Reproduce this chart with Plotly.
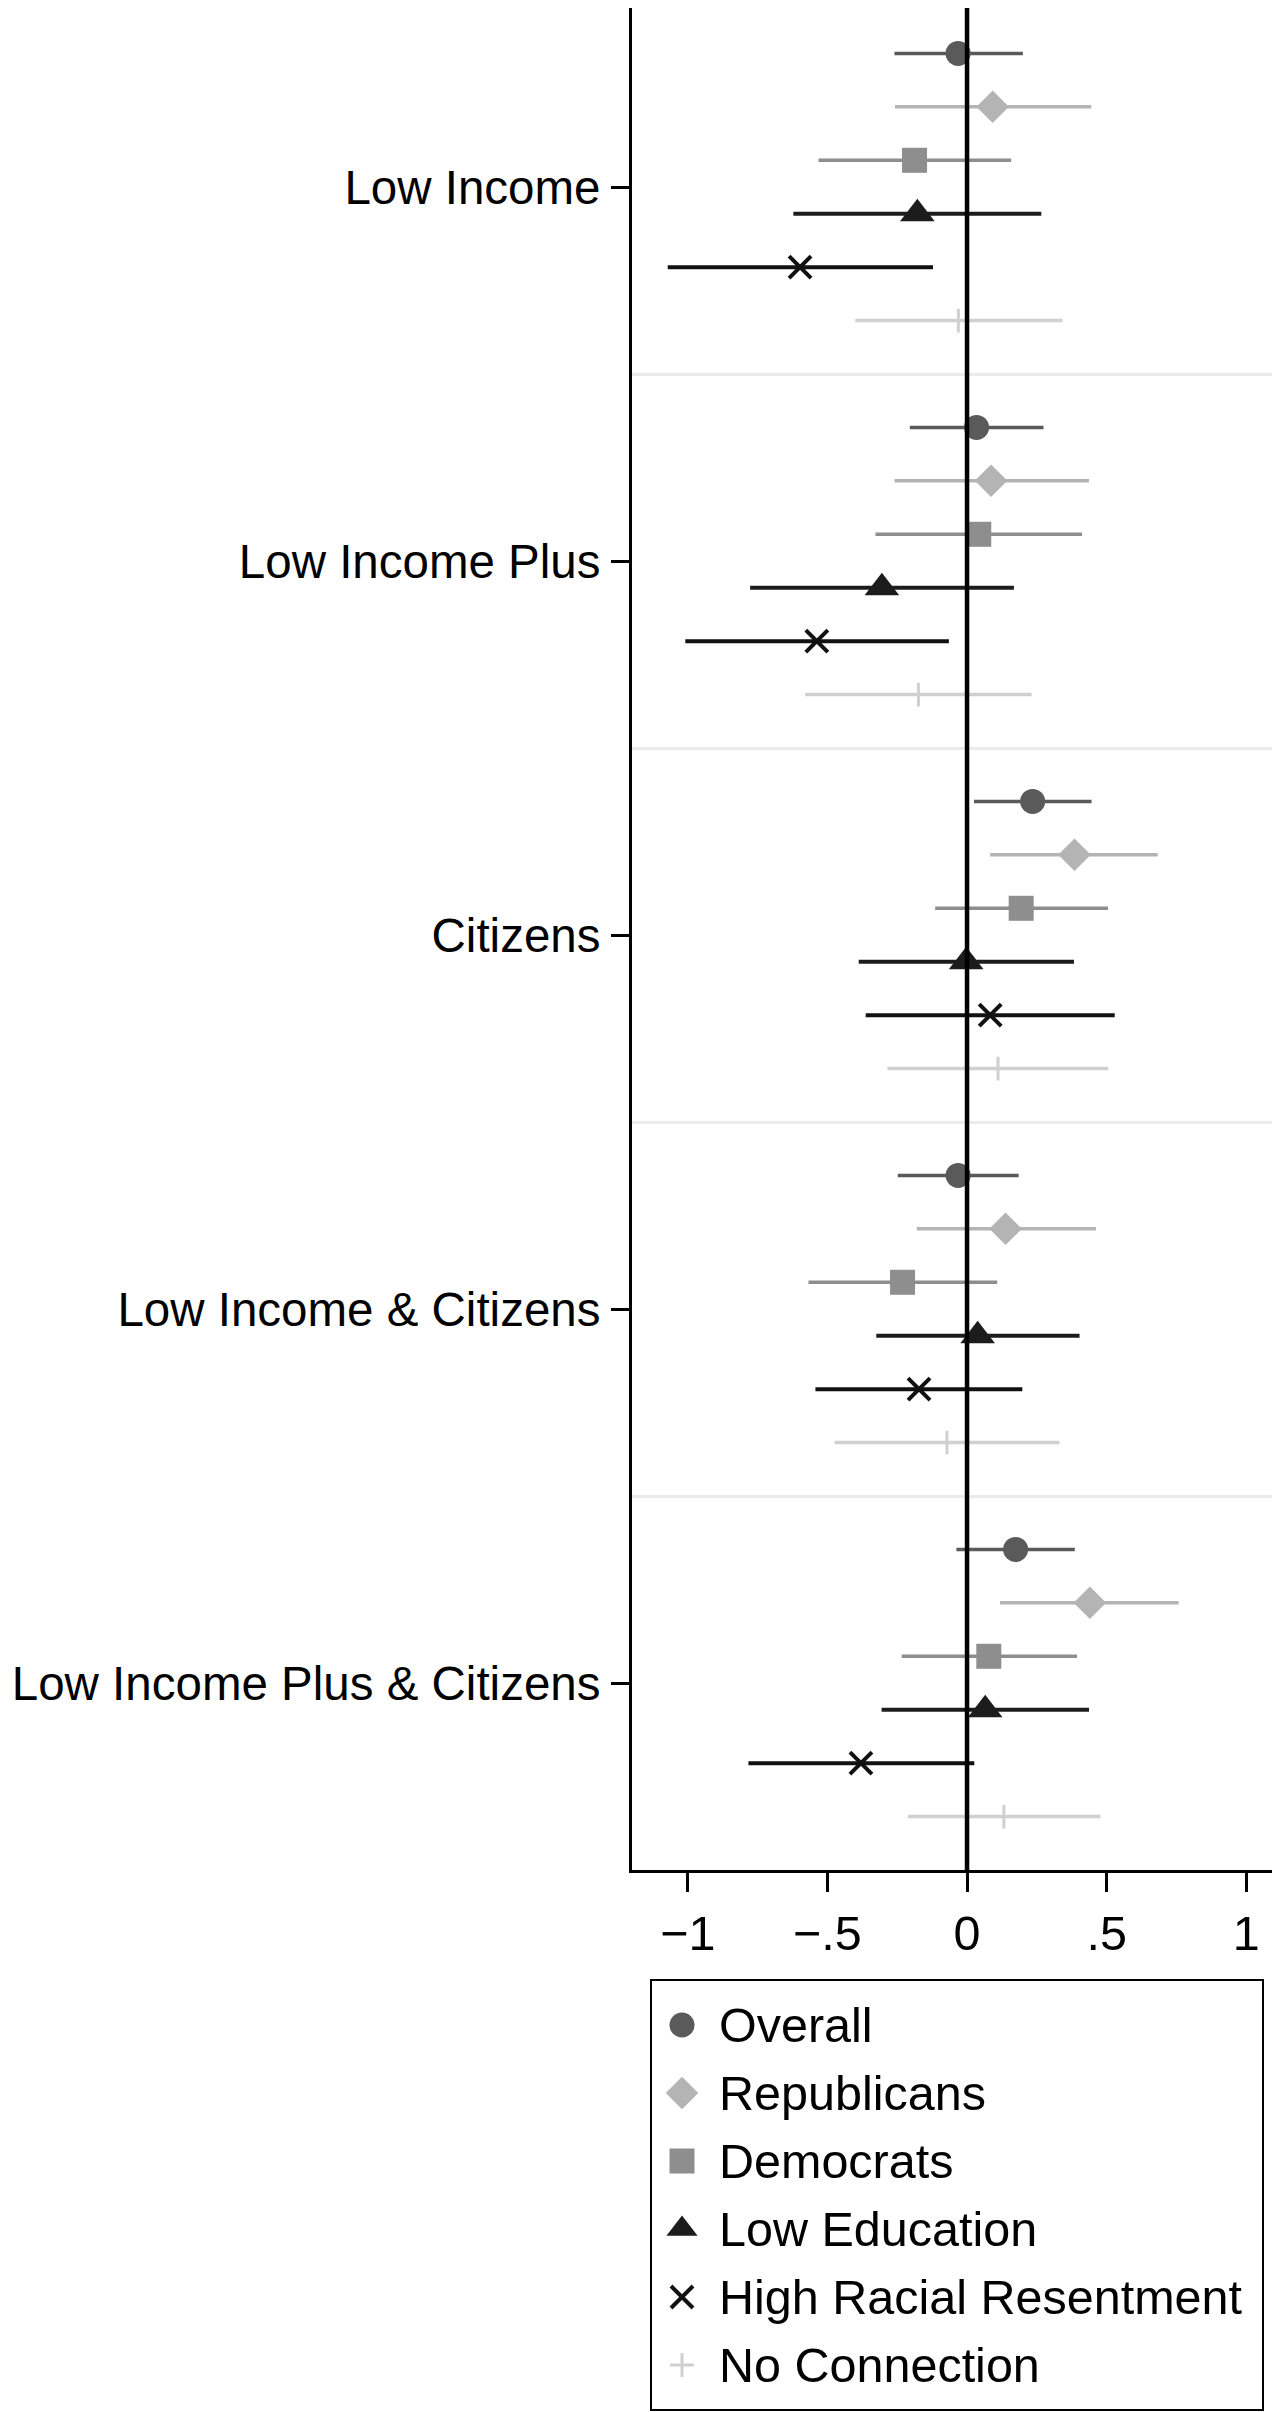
import plotly.graph_objects as go

categories = ["Low Income", "Low Income Plus", "Citizens",
              "Low Income & Citizens", "Low Income Plus & Citizens"]

series_names = ["Overall", "Republicans", "Democrats", "Low Education",
                "High Racial Resentment", "No Connection"]

# point estimates and 95% CI bounds per series (one value per category)
overall_est = [-0.032, 0.034, 0.235, -0.032, 0.174]
overall_lo = [-0.26, -0.205, 0.025, -0.248, -0.038]
overall_hi = [0.20, 0.274, 0.446, 0.185, 0.386]

rep_est = [0.092, 0.086, 0.385, 0.138, 0.44]
rep_lo = [-0.258, -0.26, 0.083, -0.18, 0.118]
rep_hi = [0.445, 0.437, 0.683, 0.462, 0.758]

dem_est = [-0.188, 0.042, 0.194, -0.231, 0.078]
dem_lo = [-0.532, -0.328, -0.114, -0.568, -0.234]
dem_hi = [0.158, 0.412, 0.505, 0.108, 0.394]

lowedu_est = [-0.178, -0.305, -0.003, 0.038, 0.065]
lowedu_lo = [-0.622, -0.777, -0.388, -0.325, -0.306]
lowedu_hi = [0.266, 0.168, 0.383, 0.403, 0.437]

hrr_est = [-0.598, -0.538, 0.083, -0.172, -0.38]
hrr_lo = [-1.072, -1.009, -0.363, -0.543, -0.783]
hrr_hi = [-0.122, -0.065, 0.529, 0.198, 0.026]

noconn_est = [-0.031, -0.174, 0.111, -0.072, 0.132]
noconn_lo = [-0.40, -0.58, -0.285, -0.475, -0.212]
noconn_hi = [0.342, 0.231, 0.506, 0.331, 0.478]

x_tickvals = [-1, -0.5, 0, 0.5, 1]
x_ticktext = ["\u22121", "\u2212.5", "0", ".5", "1"]

estimates = [overall_est, rep_est, dem_est, lowedu_est, hrr_est, noconn_est]
lows = [overall_lo, rep_lo, dem_lo, lowedu_lo, hrr_lo, noconn_lo]
highs = [overall_hi, rep_hi, dem_hi, lowedu_hi, hrr_hi, noconn_hi]

styles = [
    dict(color="#5a5a5a", symbol="circle", size=25, lw=3.5, mlw=0),
    dict(color="#b4b4b4", symbol="diamond", size=25, lw=3.5, mlw=0),
    dict(color="#8e8e8e", symbol="square", size=25, lw=3.5, mlw=0),
    dict(color="#1c1c1c", symbol="triangle-up", size=30, lw=4, mlw=0),
    dict(color="#111111", symbol="x-thin", size=22, lw=4, mlw=4),
    dict(color="#d0d0d0", symbol="cross-thin", size=17, lw=3.5, mlw=3),
]

FONT = "Liberation Sans, Arial, Helvetica, sans-serif"

# The page body adds an 8px margin; figure coordinates are page - 8.
OFF = 8
W = 1280 - OFF
H = 2412 - OFF
PLOT_LEFT = 632 - OFF
PLOT_BOTTOM = 1870 - OFF
PX_PER_ROW = 374.0
y_top_val = -0.5 + OFF / PX_PER_ROW

fig = go.Figure()
n_series = len(series_names)
for k, name in enumerate(series_names):
    st = styles[k]
    off = (k - (n_series - 1) / 2) / 7.0
    ys = [i + off for i in range(len(categories))]
    est = estimates[k]
    plus = [h - e for h, e in zip(highs[k], est)]
    minus = [e - l for e, l in zip(est, lows[k])]
    fig.add_trace(go.Scatter(
        x=est, y=ys, mode="markers", name=name, showlegend=False,
        marker=dict(color=st["color"], symbol=st["symbol"], size=st["size"],
                    line=dict(width=st["mlw"], color=st["color"])),
        error_x=dict(type="data", array=plus, arrayminus=minus,
                     color=st["color"], thickness=st["lw"], width=0),
        xaxis="x", yaxis="y",
    ))

# vertical reference line at zero, drawn above the markers
fig.add_shape(type="line", xref="x", yref="y domain", x0=0, x1=0, y0=0, y1=1,
              line=dict(color="black", width=4.5), layer="above")

# ---- legend built as its own small panel ----
LEG_L, LEG_R, LEG_T, LEG_B = 652 - OFF, 1262 - OFF, 1981 - OFF, 2409 - OFF
ROW_H = 68
FIRST_ROW = 44
leg_rows = list(range(n_series))
leg_marker_x = (30) / (LEG_R - LEG_L)
leg_text_x = (65) / (LEG_R - LEG_L)
for k, name in enumerate(series_names):
    st = styles[k]
    fig.add_trace(go.Scatter(
        x=[leg_marker_x], y=[leg_rows[k]], mode="markers", showlegend=False,
        marker=dict(color=st["color"], symbol=st["symbol"],
                    size=min(st["size"], 27),
                    line=dict(width=st["mlw"], color=st["color"])),
        xaxis="x2", yaxis="y2", hoverinfo="skip",
    ))
    fig.add_annotation(x=leg_text_x, y=leg_rows[k], xref="x2", yref="y2",
                       text=name, showarrow=False, xanchor="left",
                       yanchor="middle",
                       font=dict(family=FONT, size=48.5, color="black"))

fig.update_layout(
    width=W, height=H,
    margin=dict(l=PLOT_LEFT, r=0, t=0, b=0, pad=0),
    paper_bgcolor="white", plot_bgcolor="white",
    font=dict(family=FONT, size=48, color="black"),
    showlegend=False,
    xaxis=dict(
        domain=[0, 1],
        range=[-1.2, 1.121], tickvals=x_tickvals, ticktext=x_ticktext,
        showgrid=False, zeroline=False, automargin=False,
        showline=True, linecolor="black", linewidth=3,
        ticks="outside", ticklen=19, tickwidth=3, tickcolor="black",
        tickfont=dict(size=48.5, family=FONT),
        anchor="y",
    ),
    yaxis=dict(
        domain=[(H - PLOT_BOTTOM) / H, 1],
        range=[4.5, y_top_val], tickvals=list(range(len(categories))),
        ticktext=categories, showgrid=False, zeroline=False,
        automargin=False,
        showline=True, linecolor="black", linewidth=3,
        ticks="outside", ticklen=18, tickwidth=3, tickcolor="black",
        tickfont=dict(size=47.5, family=FONT),
        ticklabelstandoff=1,
        minor=dict(tickvals=[0.5, 1.5, 2.5, 3.5], showgrid=True,
                   gridcolor="#ebebeb", gridwidth=3, ticks=""),
        anchor="x",
    ),
    xaxis2=dict(
        domain=[(LEG_L - PLOT_LEFT) / (W - PLOT_LEFT),
                (LEG_R - PLOT_LEFT) / (W - PLOT_LEFT)],
        range=[0, 1], showgrid=False, zeroline=False, showticklabels=False,
        ticks="", showline=True, mirror=True, linecolor="black", linewidth=2,
        automargin=False, anchor="y2", fixedrange=True,
    ),
    yaxis2=dict(
        domain=[(H - LEG_B) / H, (H - LEG_T) / H],
        range=[(LEG_B - LEG_T - FIRST_ROW) / ROW_H, -FIRST_ROW / ROW_H],
        showgrid=False, zeroline=False, showticklabels=False,
        ticks="", showline=True, mirror=True, linecolor="black", linewidth=2,
        automargin=False, anchor="x2", fixedrange=True,
    ),
)

fig.write_html("out.html")
